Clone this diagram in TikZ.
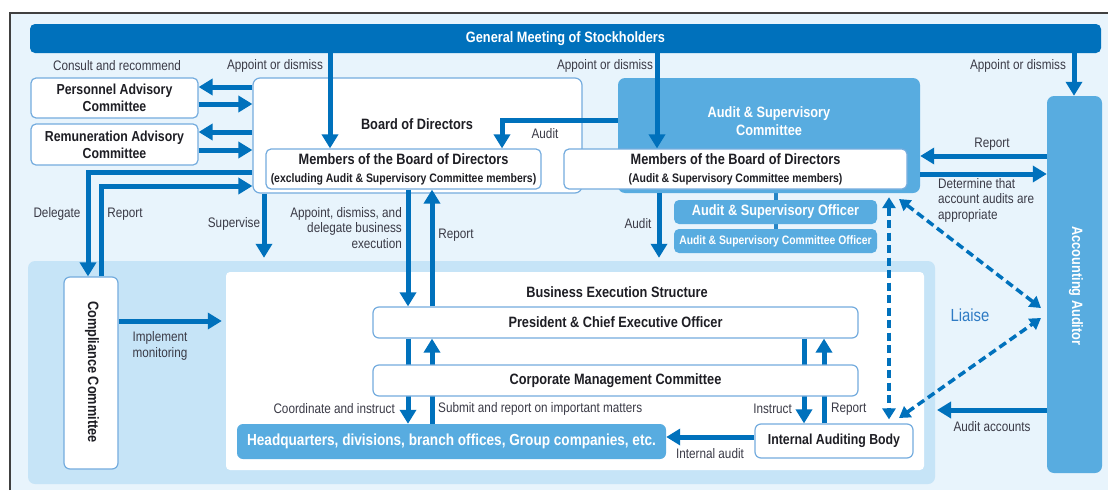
\documentclass[tikz,border=0pt]{standalone}
\usepackage{fontspec}
\setmainfont{Liberation Sans}[FakeStretch=0.85]
\usetikzlibrary{arrows.meta,calc}
\definecolor{dblue}{HTML}{0071BC}
\definecolor{mblue}{HTML}{58ACE0}
\definecolor{bgc}{HTML}{E8F4FC}
\definecolor{panelc}{HTML}{C6E4F7}
\definecolor{bordc}{HTML}{74ACDE}
\definecolor{txtc}{HTML}{3A3A46}
\definecolor{liac}{HTML}{2F7BC4}
\definecolor{ttlc}{HTML}{1E1E24}
\newcommand\lblfont{\fontsize{13.8}{15.6}\selectfont}
\newcommand\ttlfont{\fontsize{15}{18}\selectfont\bfseries}
\pgfdeclarelayer{back}\pgfdeclarelayer{mid}\pgfsetlayers{back,mid,main}
\tikzset{
  arr/.style={draw=dblue, line width=5pt, -{Triangle[width=16pt,length=14pt]}},
  dasharr/.style={draw=dblue, line width=3.5pt, dash pattern=on 8pt off 4.5pt,
     {Triangle[width=13pt,length=11pt]}-{Triangle[width=13pt,length=11pt]}},
  wbox/.style={draw=bordc, line width=1.2pt, fill=white, rounded corners=5pt, inner sep=0pt, align=center, text=ttlc, font=\ttlfont},
  mbox/.style={fill=mblue, rounded corners=6pt, inner sep=0pt, align=center, text=white, font=\ttlfont},
  lbl/.style={inner sep=0pt, text=txtc, font=\lblfont, align=center},
  ttl/.style={inner sep=0pt, text=ttlc, font=\ttlfont, align=center},
  wttl/.style={inner sep=0pt, text=white, font=\ttlfont, align=center}
}
\begin{document}
\begin{tikzpicture}[x=1pt,y=-1pt]
\useasboundingbox (0,0) rectangle (1108,490);
\begin{pgfonlayer}{back}
  \fill[bgc] (10,13) rectangle (1108,490);
  \draw[line width=1.3pt, black!75] (10,490) -- (10,13) -- (1108,13);
  \node[fill=panelc, rounded corners=7pt, minimum width=907pt, minimum height=223pt, inner sep=0pt] (lower) at (481.5,372.5) {};
  \node[fill=white, rounded corners=4pt, minimum width=698pt, minimum height=198pt, inner sep=0pt] (bes) at (575,371) {};
\end{pgfonlayer}

% top bar
\node[fill=dblue, rounded corners=5pt, minimum width=1071pt, minimum height=29pt, inner sep=0pt, text=white, font=\ttlfont] (gm) at (565.5,38.5) {General Meeting of Stockholders};

% board & committee
\node[wbox, minimum width=329pt, minimum height=115pt, rounded corners=7pt] (board) at (417.5,135.5) {};
\node[ttl] (boardt) at (417,124) {Board of Directors};
\node[mbox, minimum width=302pt, minimum height=115pt, rounded corners=7pt] (asc) at (769,135.5) {};
\node[wttl] (asct) at (769,121) {Audit \& Supervisory\\Committee};
\node[wbox, minimum width=275pt, minimum height=40pt] (memx) at (403.5,169)
  {Members of the Board of Directors\\{\fontsize{12.3}{18}\selectfont (excluding Audit \& Supervisory Committee members)}};
\node[wbox, minimum width=343pt, minimum height=40pt] (mema) at (735.5,169)
  {Members of the Board of Directors\\{\fontsize{12.3}{18}\selectfont (Audit \& Supervisory Committee members)}};

% advisory committees
\node[wbox, minimum width=167pt, minimum height=40pt, font=\fontsize{14.5}{17}\selectfont\bfseries] (pers) at (114.5,98) {Personnel Advisory\\Committee};
\node[wbox, minimum width=167pt, minimum height=41pt, font=\fontsize{14.5}{17}\selectfont\bfseries] (remu) at (114.5,144.5) {Remuneration Advisory\\Committee};

% officers
\begin{pgfonlayer}{mid}
  \draw[draw=dblue!85, line width=4pt] (776,189) -- (776,229);
\end{pgfonlayer}
\node[mbox, minimum width=203pt, minimum height=24pt, rounded corners=5pt] (aso) at (775.5,212) {Audit \& Supervisory Officer};
\node[mbox, minimum width=203pt, minimum height=24pt, rounded corners=5pt, font=\fontsize{12.2}{14}\selectfont\bfseries] (asco) at (775.5,241) {Audit \& Supervisory Committee Officer};

% accounting auditor
\node[mbox, minimum width=55pt, minimum height=377pt, rounded corners=7pt] (acc) at (1074.5,284.5) {};
\node[wttl, rotate=-90] (acct) at (1076,286) {Accounting Auditor};

% compliance
\node[wbox, minimum width=54pt, minimum height=192pt, rounded corners=6pt] (comp) at (91,373) {};
\node[ttl, rotate=-90] (compt) at (92,372) {Compliance Committee};

% business execution
\node[ttl] (best) at (617,292) {Business Execution Structure};
\node[wbox, minimum width=485pt, minimum height=31pt, rounded corners=6pt] (pres) at (615.5,322.5) {President \& Chief Executive Officer};
\node[mbox, minimum width=429pt, minimum height=35pt, rounded corners=6pt, font=\fontsize{16}{18}\selectfont\bfseries] (hq) at (451.5,441.5) {Headquarters, divisions, branch offices, Group companies, etc.};
\node[wbox, minimum width=158pt, minimum height=34pt, rounded corners=6pt, font=\fontsize{14.5}{17}\selectfont\bfseries] (iab) at (834,441) {Internal Auditing Body};

% lines passing behind CMC
\draw[arr] (pres.south -| 408,0) -- (hq.north -| 408,0);
\draw[arr] (hq.north -| 432,0) -- (pres.south -| 432,0);
\draw[arr] (pres.south -| 804,0) -- (iab.north -| 804,0);
\draw[arr] (iab.north -| 824,0) -- (pres.south -| 824,0);
\node[wbox, minimum width=485pt, minimum height=31pt, rounded corners=6pt] (cmc) at (615.5,380.5) {Corporate Management Committee};

% arrows from general meeting
\draw[arr] (gm.south -| 330,0) -- (memx.north -| 330,0);
\draw[arr] (gm.south -| 657,0) -- (mema.north -| 657,0);
\draw[arr] (gm.south -| 1074,0) -- (acc.north -| 1074,0);

% advisory arrows
\draw[arr] (board.west |- 0,87) -- (pers.east |- 0,87);
\draw[arr] (pers.east |- 0,104) -- (board.west |- 0,104);
\draw[arr] (board.west |- 0,132) -- (remu.east |- 0,132);
\draw[arr] (remu.east |- 0,150) -- (board.west |- 0,150);

% delegate / report with compliance
\draw[arr] (board.west |- 0,172) -| (comp.north -| 88,0);
\draw[arr] (comp.north -| 101,0) |- (board.west |- 0,186);
\draw[arr, shorten >=4pt] (comp.east |- 0,321) -- (bes.west |- 0,321);

% supervise, audit
\draw[arr, shorten >=3pt] (board.south -| 264,0) -- (lower.north -| 264,0);
\draw[arr] (asc.west |- 0,120) -| (memx.north -| 502,0);
\draw[arr, shorten >=3pt] (asc.south -| 659,0) -- (lower.north -| 659,0);

% board <-> president
\draw[arr] (memx.south -| 408,0) -- (pres.north -| 408,0);
\draw[arr] (pres.north -| 432,0) -- (memx.south -| 432,0);

% accounting auditor links
\draw[arr] (acc.west |- 0,156) -- (asc.east |- 0,156);
\draw[arr] (asc.east |- 0,174) -- (acc.west |- 0,174);
\coordinate (aaend) at (937,410);
\draw[arr] (acc.west |- 0,410) -- (aaend);
\draw[arr] (iab.west |- 0,437) -- (hq.east |- 0,437);

% liaise dashed arrows
\coordinate (d1s) at (899,199);
\coordinate (d1e) at (1041,308);
\coordinate (d2s) at (899,418);
\coordinate (d2e) at (1041,318);
\draw[dasharr, shorten <=4pt, shorten >=4pt] (asc.south -| 889,0) -- (iab.north -| 889,0);
\draw[dasharr] (d1s) -- (d1e);
\draw[dasharr] (d2s) -- (d2e);

% labels
\node[lbl] (l1) at (117,66) {Consult and recommend};
\node[lbl] (l2) at (275,66) {Appoint or dismiss};
\node[lbl] (l3) at (605,66) {Appoint or dismiss};
\node[lbl] (l4) at (1018,66) {Appoint or dismiss};
\node[lbl] (l5) at (545,134) {Audit};
\node[lbl] (l6) at (992,144) {Report};
\node[lbl, anchor=north west, align=left] (l7) at (938,178) {Determine that\\account audits are\\appropriate};
\node[lbl] (l8) at (57,214) {Delegate};
\node[lbl] (l9) at (125,214) {Report};
\node[lbl] (l10) at (234,224) {Supervise};
\node[lbl, anchor=east, align=right] (l11) at (402,228) {Appoint, dismiss, and\\delegate business\\execution};
\node[lbl] (l12) at (456,235) {Report};
\node[lbl] (l13) at (638,224) {Audit};
\node[lbl] (l14) at (160,346) {Implement\\monitoring};
\node[lbl, anchor=east] (l15) at (395,409) {Coordinate and instruct};
\node[lbl, anchor=west] (l16) at (438,409) {Submit and report on important matters};
\node[lbl, anchor=east] (l17) at (792,409) {Instruct};
\node[lbl, anchor=west] (l18) at (831,409) {Report};
\node[lbl] (l19) at (710,454) {Internal audit};
\node[lbl] (l20) at (992,427) {Audit accounts};
\node[inner sep=0pt, text=liac, font=\fontsize{17.5}{20}\selectfont] (l21) at (970,315) {Liaise};
\end{tikzpicture}
\end{document}
